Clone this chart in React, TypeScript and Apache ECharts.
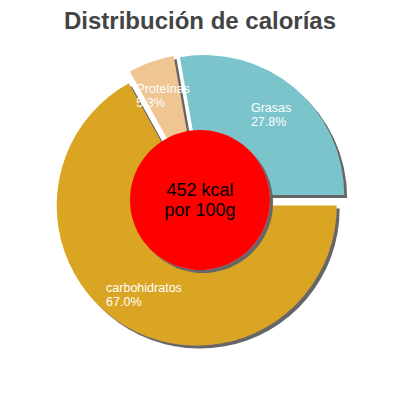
import { useEffect, useRef } from "react";
import * as echarts from "echarts";

const categories = ["Grasas", "Proteínas", "carbohidratos"];
const shares = [27.8, 5.3, 67.0];
const kcalPer100g = 452;
const portionLabel = "por 100g";

const sliceColors = ["#7bc4cc", "#efc592", "#daa520"];

export default function App() {
  const chartRef = useRef<HTMLDivElement>(null);

  useEffect(() => {
    if (!chartRef.current) return;
    const chart = echarts.init(chartRef.current, undefined, { renderer: "svg" });

    const shadow = {
      shadowColor: "#666",
      shadowBlur: 0,
      shadowOffsetX: 3,
      shadowOffsetY: 3,
    };

    chart.setOption({
      animation: false,
      title: {
        text: "Distribución de calorías",
        left: "center",
        top: 3,
        textStyle: {
          fontFamily: "Liberation Sans, Arial, sans-serif",
          fontSize: 24,
          fontWeight: "bold",
          color: "#444",
        },
      },
      series: [
        {
          type: "pie",
          center: ["50%", "50%"],
          // inner hole is hidden under the red circle; it only moves labels outward
          radius: [62, "70%"],
          startAngle: 0,
          clockwise: false,
          selectedMode: "multiple",
          selectedOffset: 6.5,
          avoidLabelOverlap: false,
          emphasis: { disabled: true },
          itemStyle: { borderWidth: 0, ...shadow },
          label: {
            show: true,
            position: "inside",
            formatter: (p: any) => `{a|${p.name}}\n{a|${p.value.toFixed(1)}%}`,
            rich: {
              a: {
                align: "left",
                color: "#fff",
                fontSize: 12.5,
                lineHeight: 14,
                fontFamily: "Liberation Sans, Arial, sans-serif",
              },
            },
          },
          labelLine: { show: false },
          data: categories.map((name, i) => ({
            name,
            value: shares[i],
            selected: true,
            itemStyle: { color: sliceColors[i] },
          })),
        },
        {
          type: "pie",
          center: ["50%", "50%"],
          radius: [0, "35%"],
          silent: true,
          emphasis: { disabled: true },
          itemStyle: { color: "#ff0000", ...shadow },
          label: {
            show: true,
            position: "center",
            formatter: (p: any) => `${p.value} kcal\n${portionLabel}`,
            color: "#000",
            fontSize: 18,
            lineHeight: 20,
            fontFamily: "Liberation Sans, Arial, sans-serif",
          },
          labelLine: { show: false },
          data: [{ name: "kcal", value: kcalPer100g }],
        },
      ],
    });

    return () => {
      chart.dispose();
    };
  }, []);

  return (
    <div
      ref={chartRef}
      style={{ position: "absolute", left: 0, top: 0, width: 400, height: 400 }}
    />
  );
}
